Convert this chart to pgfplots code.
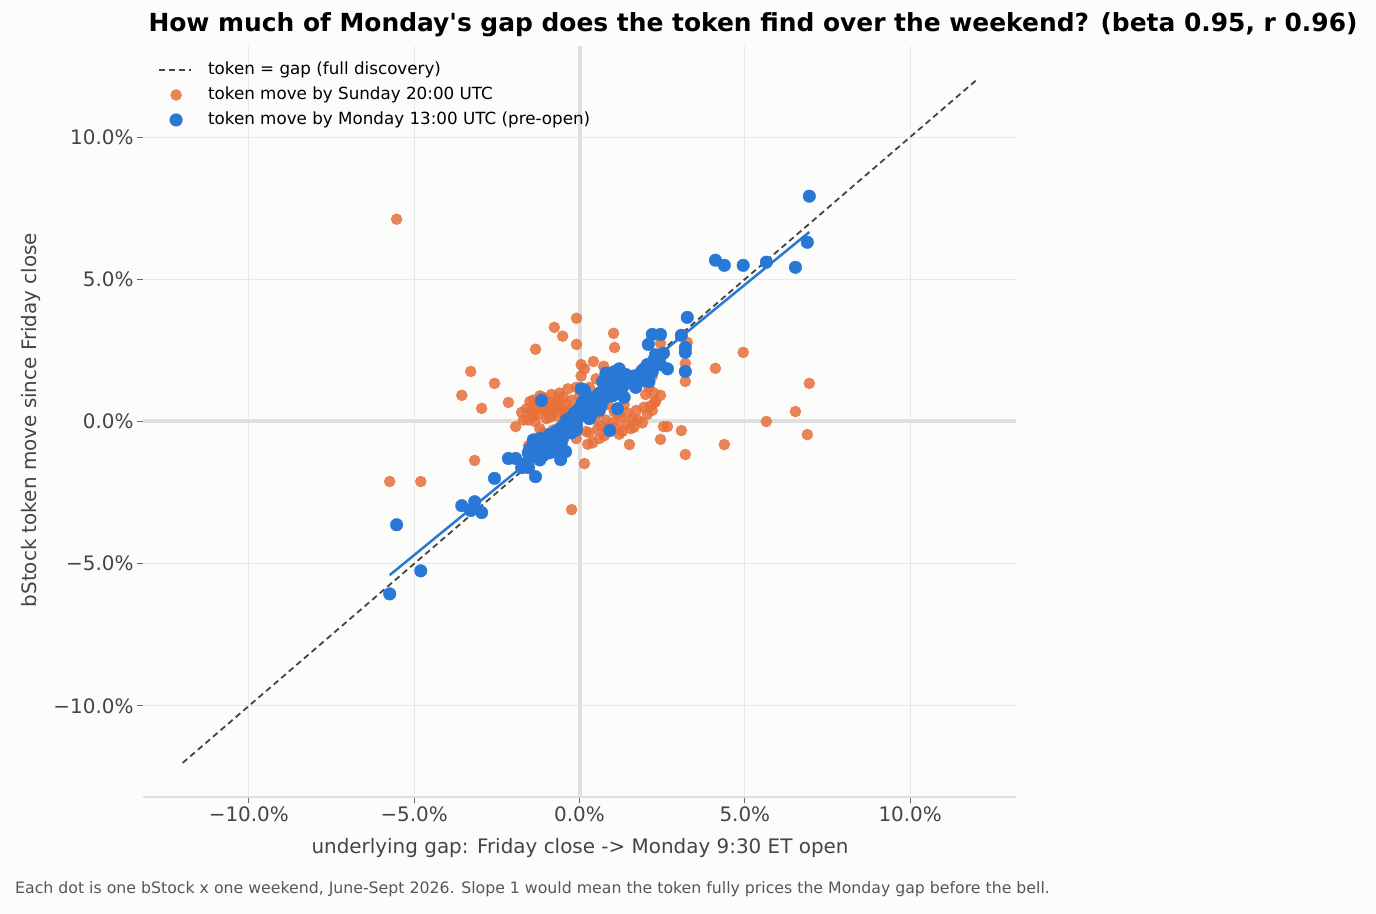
\documentclass[border=0pt]{standalone}
\usepackage{fontspec}
\setmainfont{DejaVu Sans}[Ligatures=TeXOff]
\usepackage{pgfplots}
\pgfplotsset{compat=1.18}
\usepackage{pgfplotstable}

\definecolor{bg}{HTML}{FCFCFA}
\definecolor{sunorange}{HTML}{E8703A}
\definecolor{monblue}{HTML}{2A78D6}
\definecolor{gridgrey}{HTML}{E8E8E8}
\definecolor{zerogrey}{HTML}{DFDFDF}
\definecolor{txtgrey}{HTML}{444444}
\definecolor{dashgrey}{HTML}{444444}

\pgfplotsset{
    dashleg/.style={legend image code/.code={
        \draw[##1] (0bp,0bp) -- (32bp,0bp);
        \path[draw=none, fill=none] (0bp,0bp) rectangle (49bp,0.1bp);}},
    dotleg/.style={legend image code/.code={
        \draw[##1] plot coordinates {(17bp,0bp)};
        \path[draw=none, fill=none] (0bp,0bp) rectangle (49bp,0.1bp);}},
}

% gap = underlying Friday close -> Monday open, sun / mon = token move (%)
\pgfplotstableread{
gap sun mon
-5.74 -2.11 -6.06
-5.53 7.11 -3.63
-4.80 -2.11 -5.25
-3.56 0.92 -2.96
-3.29 1.76 -3.13
-3.17 -1.37 -2.82
-2.96 0.46 -3.20
-2.57 1.34 -2.00
-2.15 0.67 -1.30
-1.93 -0.18 -1.30
-1.75 0.32 -1.62
-1.54 -0.85 -1.62
-1.33 2.54 -1.94
-1.15 0.45 0.74
-0.76 3.31 -0.90
-0.51 3.00 -0.60
-0.24 -3.10 -0.40
-0.09 3.63 0.20
-0.09 2.71 -0.10
0.15 -1.48 0.30
0.42 2.11 0.50
1.03 3.10 1.20
1.06 2.60 1.00
0.73 1.94 0.80
1.51 -0.81 1.50
1.72 0.39 1.40
2.45 -0.63 2.30
2.54 -0.18 2.40
2.66 -0.18 1.85
2.45 0.92 3.06
2.27 0.67 2.20
2.20 0.39 3.06
3.08 -0.32 3.03
3.20 -1.16 1.76
3.20 1.41 2.43
3.20 2.04 2.60
3.26 2.78 3.66
4.11 1.87 5.67
4.38 -0.81 5.49
4.95 2.43 5.49
5.65 0.00 5.60
6.53 0.35 5.42
6.89 -0.46 6.30
6.95 1.34 7.92
2.08 1.40 2.71
2.45 2.75 2.00
0.91 -0.20 -0.32
-0.57 0.50 -1.34
-0.42 0.30 -1.06
-1.60 0.45 -1.45
-1.55 0.05 -1.10
-1.50 0.70 -0.95
-1.45 0.35 -1.25
-1.40 0.75 -0.80
-1.35 0.00 -0.65
-1.30 0.55 -1.05
-1.25 0.25 -0.75
-1.20 0.60 -0.95
-1.10 0.85 -0.85
-1.05 0.40 -0.60
-1.00 0.10 -1.00
-0.95 0.70 -0.70
-0.90 0.50 -0.45
-0.85 0.95 -0.80
-0.80 0.30 -0.55
-0.75 0.65 -1.05
-0.70 0.20 -0.35
-0.65 0.80 -0.60
-0.60 1.00 -0.25
-0.55 0.45 -0.50
-0.50 0.85 -0.15
-0.45 0.15 -0.35
-0.40 0.60 0.05
-0.35 1.15 -0.30
-0.30 0.40 -0.10
-0.25 0.75 0.15
-0.20 -0.10 -0.20
-0.15 0.30 0.30
-0.10 1.20 0.05
-0.05 0.50 0.40
0.00 0.90 0.20
0.05 1.60 0.55
0.10 0.20 0.70
0.15 1.85 1.10
0.20 -0.35 0.35
0.25 -0.80 0.60
0.30 1.20 0.80
0.35 0.45 0.25
0.40 -0.75 0.65
0.45 0.10 0.85
0.50 0.70 0.45
0.55 -0.25 0.70
0.60 0.30 1.00
0.65 -0.15 0.55
0.70 1.30 1.40
0.75 -0.50 0.80
0.80 0.05 1.70
0.85 0.60 1.10
0.90 -0.30 1.25
0.95 1.10 1.60
1.00 -0.05 0.90
1.05 0.35 1.75
1.10 -0.20 1.30
1.15 0.25 0.45
1.20 -0.45 1.85
1.25 0.15 1.50
1.30 -0.35 1.20
1.35 0.60 0.85
1.40 -0.10 1.65
1.45 0.30 1.45
1.55 -0.25 1.55
1.60 0.10 1.35
1.65 -0.20 1.60
1.70 1.60 1.20
1.75 0.05 1.55
1.85 1.80 1.70
1.90 -0.05 1.45
1.95 0.50 1.85
2.00 0.95 1.60
2.05 0.25 2.00
2.10 1.20 1.40
2.15 0.55 1.95
2.20 1.60 1.75
2.25 1.00 2.15
2.30 0.70 2.35
2.35 2.00 2.10
-0.80 -0.30 -0.95
-1.20 -0.25 -1.35
-0.55 -0.55 -0.75
0.50 1.50 0.40
0.05 2.00 1.15
-1.70 0.05 -1.60
-0.10 -0.60 -0.30
-1.40 0.20 -0.65
-1.20 0.90 -0.60
-0.90 0.15 -1.10
-1.10 -0.40 -1.20
-0.70 0.55 -0.95
0.30 -0.40 0.10
0.60 -0.60 0.40
}\weekends

\begin{document}
\begin{tikzpicture}
\useasboundingbox (0,0) rectangle (1376bp,914bp);
\fill[bg] (0,0) rectangle (1376bp,914bp);
\begin{axis}[
    at={(143bp,117bp)}, anchor=south west,
    scale only axis, width=873bp, height=751bp,
    xmin=-13.2, xmax=13.2, ymin=-13.2, ymax=13.2,
    axis x line=bottom, axis y line=left,
    x axis line style={-, draw=zerogrey, line width=1.5bp},
    y axis line style={-, draw=none},
    tick align=outside, major tick length=6bp,
    tick style={draw=txtgrey!80, line width=1bp},
    xtick={-10,-5,0,5,10}, ytick={-10,-5,0,5,10},
    xticklabels={−10.0\%,−5.0\%,0.0\%,5.0\%,10.0\%},
    yticklabels={−10.0\%,−5.0\%,0.0\%,5.0\%,10.0\%},
    ticklabel style={font=\fontsize{20}{24}\selectfont, text=txtgrey},
    grid=major, grid style={draw=gridgrey, line width=1bp},
    legend cell align=left,
    legend style={at={(0,1)}, anchor=north west, xshift=15bp, yshift=-16bp,
        draw=none, fill=none, font=\fontsize{16.8}{20}\selectfont,
        row sep=9.5bp, inner sep=0pt,
        nodes={inner sep=0pt, text height=12bp, text depth=3.5bp}},
    clip=false,
]
\addlegendimage{dashgrey, line width=1.8bp, dash pattern=on 6bp off 4bp, dashleg}
\addlegendentry{token = gap (full discovery)}
\addlegendimage{only marks, mark=*, mark size=5.5bp, draw=sunorange, fill=sunorange,
    fill opacity=0.85, draw opacity=0.9, dotleg}
\addlegendentry{token move by Sunday 20:00 UTC}
\addlegendimage{only marks, mark=*, mark size=6.3bp, draw=monblue, fill=monblue, dotleg}
\addlegendentry{token move by Monday 13:00 UTC (pre-open)}

\addplot[forget plot, only marks, mark=*, mark size=5.5bp, draw=sunorange, fill=sunorange,
    fill opacity=0.85, draw opacity=0.9] table[x=gap, y=sun] {\weekends};
\addplot[forget plot, only marks, mark=*, mark size=6.3bp, draw=monblue, fill=monblue]
    table[x=gap, y=mon] {\weekends};

\addplot[forget plot, zerogrey, line width=4bp] coordinates {(-13.2,0) (13.2,0)};
\addplot[forget plot, zerogrey, line width=4bp] coordinates {(0,-13.2) (0,13.2)};
\addplot[forget plot, dashgrey, line width=1.8bp, dash pattern=on 6bp off 4bp]
    coordinates {(-12,-12) (12,12)};
\addplot[forget plot, monblue, line width=2.5bp] coordinates {(-5.74,-5.40) (6.95,6.66)};
\end{axis}
\node[font=\bfseries\fontsize{25}{30}\selectfont] at (753bp,889bp)
    {How much of Monday's gap does the token find over the weekend? (beta 0.95, r 0.96)};
\node[font=\fontsize{20}{24}\selectfont, text=txtgrey] at (580bp,66bp)
    {underlying gap: Friday close -> Monday 9:30 ET open};
\node[font=\fontsize{20}{24}\selectfont, text=txtgrey, rotate=90] at (31bp,494bp)
    {bStock token move since Friday close};
\node[font=\fontsize{15.8}{19}\selectfont, text=txtgrey!90, anchor=west, inner sep=0pt]
    at (15bp,25bp)
    {Each dot is one bStock x one weekend, June-Sept 2026. Slope 1 would mean the token fully prices the Monday gap before the bell.};
\end{tikzpicture}
\end{document}
